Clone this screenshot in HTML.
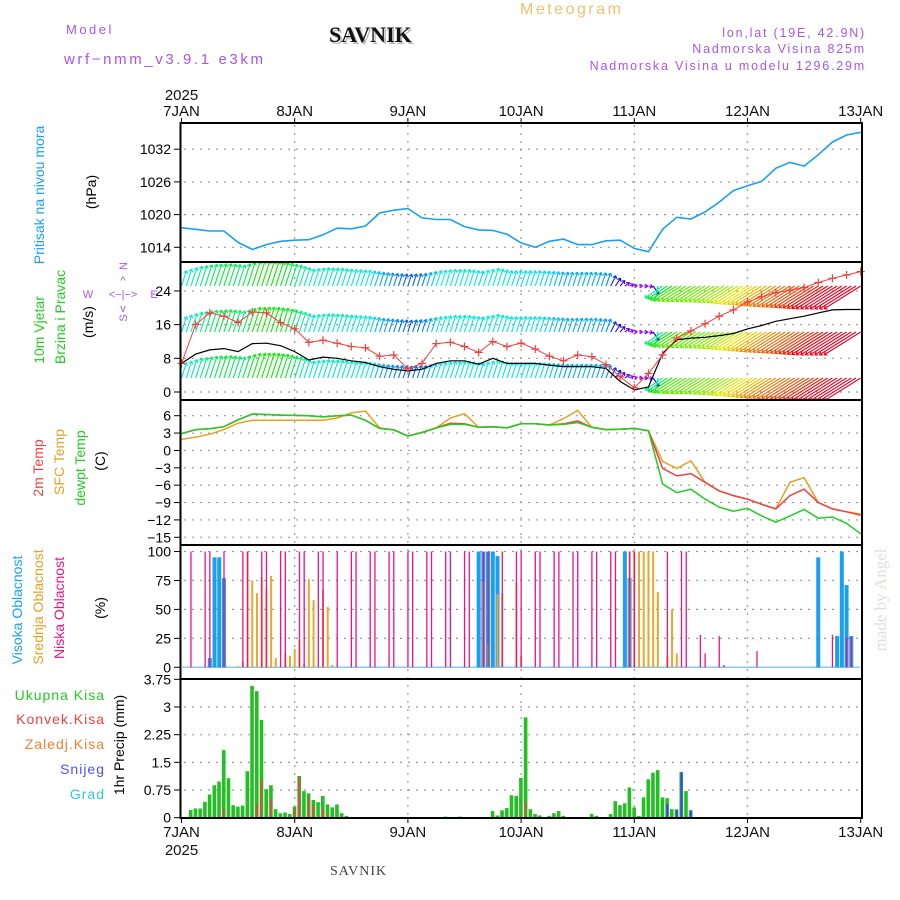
<!DOCTYPE html>
<html><head><meta charset="utf-8"><style>
html,body{margin:0;padding:0;background:#fff;}
svg{display:block;font-family:"Liberation Sans",sans-serif;}
</style></head><body>
<svg id="chart" width="900" height="900" viewBox="0 0 900 900" xmlns="http://www.w3.org/2000/svg">
<rect x="0" y="0" width="900" height="900" fill="#fff"/>
<g id="header">
<text x="66" y="34" font-size="13" fill="#a855f0" letter-spacing="2.5">Model</text>
<text x="64" y="64" font-size="15" fill="#a855f0" letter-spacing="2.6">wrf−nmm_v3.9.1 e3km</text>
<text x="331" y="44" font-size="22" font-weight="bold" font-family="'Liberation Serif',serif" fill="#bbb">SAVNIK</text>
<text x="329" y="42" font-size="22" font-weight="bold" font-family="'Liberation Serif',serif" fill="#111">SAVNIK</text>
<text x="520" y="14" font-size="16" fill="#f0c070" letter-spacing="2.5">Meteogram</text>
<text x="866" y="37" font-size="12.5" fill="#a855f0" letter-spacing="1.8" text-anchor="end">lon,lat (19E, 42.9N)</text>
<text x="866" y="53" font-size="12.5" fill="#a855f0" letter-spacing="1.8" text-anchor="end">Nadmorska Visina 825m</text>
<text x="866" y="70" font-size="12.5" fill="#a855f0" letter-spacing="1.8" text-anchor="end">Nadmorska Visina u modelu 1296.29m</text>
</g>
<g id="leftLabels" font-size="14">
<text transform="translate(44,195) rotate(-90)" text-anchor="middle" fill="#1aa0f0">Pritisak na nivou mora</text>
<text transform="translate(96,192) rotate(-90)" text-anchor="middle" fill="#000">(hPa)</text>
<text transform="translate(44,330) rotate(-90)" text-anchor="middle" fill="#22cc22">10m Vjetar</text>
<text transform="translate(65,317) rotate(-90)" text-anchor="middle" fill="#22cc22">Brzina i Pravac</text>
<text transform="translate(93,322) rotate(-90)" text-anchor="middle" fill="#000">(m/s)</text>
<g fill="#a855f0" font-size="11">
<text x="123" y="270" text-anchor="middle" transform="rotate(-90 123 266)">N</text>
<text x="88" y="298" text-anchor="middle">W</text>
<text x="123" y="298" text-anchor="middle">&lt;−|−&gt;</text>
<text x="154" y="298" text-anchor="middle">E</text>
<text x="123" y="322" text-anchor="middle" transform="rotate(-90 123 318)">S</text>
<text x="123" y="284" text-anchor="middle">^</text>
<text x="123" y="312" text-anchor="middle">v</text>
</g>
<text transform="translate(43,468) rotate(-90)" text-anchor="middle" fill="#f04040">2m Temp</text>
<text transform="translate(64,462) rotate(-90)" text-anchor="middle" fill="#e8a020">SFC Temp</text>
<text transform="translate(85,468) rotate(-90)" text-anchor="middle" fill="#22cc22">dewpt Temp</text>
<text transform="translate(105,461) rotate(-90)" text-anchor="middle" fill="#000">(C)</text>
<text transform="translate(22,610) rotate(-90)" text-anchor="middle" fill="#1aa0f0">Visoka Oblacnost</text>
<text transform="translate(43,607) rotate(-90)" text-anchor="middle" fill="#e8a020">Srednja Oblacnost</text>
<text transform="translate(64,608) rotate(-90)" text-anchor="middle" fill="#ee1188">Niska Oblacnost</text>
<text transform="translate(105,608) rotate(-90)" text-anchor="middle" fill="#000">(%)</text>
<g text-anchor="end" letter-spacing="1">
<text x="105" y="700" fill="#22cc22">Ukupna Kisa</text>
<text x="105" y="724" fill="#f04040">Konvek.Kisa</text>
<text x="105" y="749" fill="#f08030">Zaledj.Kisa</text>
<text x="105" y="774" fill="#5050f0">Snijeg</text>
<text x="105" y="799" fill="#30c8d8">Grad</text>
</g>
<text transform="translate(124,745) rotate(-90)" text-anchor="middle" fill="#000">1hr Precip (mm)</text>
<text transform="translate(886,600) rotate(-90)" text-anchor="middle" font-size="17" font-family="'Liberation Serif',serif" fill="#d8e4d8">made by Angel</text>
<text x="330" y="875" font-size="14" font-family="'Liberation Serif',serif" fill="#444" letter-spacing="1">SAVNIK</text>
</g>
<g id="plot"></g>
</svg>
<script>
// ---- data (3-hourly, hours since 7 JAN 00 UTC) ----
const hours = [0,3,6,9,12,15,18,21,24,27,30,33,36,39,42,45,48,51,54,57,60,63,66,69,72,75,78,81,84,87,90,93,96,99,102,105,108,111,114,117,120,123,126,129,132,135,138,141,144];
const dayLabels = ["7JAN","8JAN","9JAN","10JAN","11JAN","12JAN","13JAN"];
const pressure = [1017.6,1017.3,1017.0,1017.0,1014.9,1013.6,1014.5,1015.1,1015.3,1015.4,1016.3,1017.5,1017.4,1017.9,1020.3,1020.8,1021.1,1019.4,1019.1,1019.1,1017.8,1017.2,1017.1,1016.4,1014.8,1014.0,1015.1,1015.5,1014.5,1014.5,1015.2,1015.3,1013.8,1013.2,1017.3,1019.5,1019.2,1020.5,1022.3,1024.4,1025.3,1026.1,1028.5,1029.6,1028.9,1031.0,1033.3,1034.6,1035.1];
const pressureTicks = [1014,1020,1026,1032];
const windSpeed = [6.8,9.0,10.0,10.3,9.6,11.5,11.6,11.0,9.6,7.6,8.3,8.0,7.4,7.0,6.0,5.4,5.0,5.4,6.8,7.4,7.4,6.6,8.0,6.8,6.8,6.8,6.4,6.0,6.0,6.0,5.6,2.5,0.5,1.2,9.2,12.4,12.8,13.0,13.4,13.9,15.0,15.8,16.8,17.4,18.0,18.8,19.5,19.6,19.6];
const windGust = [6.8,16.0,18.8,18.0,16.5,19.0,18.8,16.5,15.0,11.8,12.3,11.6,10.8,10.5,8.5,8.8,5.5,6.8,11.5,11.8,10.8,9.4,12.0,10.8,11.6,10.2,8.5,7.4,8.8,8.4,6.5,3.6,1.0,4.4,8.8,12.8,14.5,16.2,18.0,19.5,21.4,22.6,23.6,24.2,24.8,26.0,27.0,27.8,28.6];
const windDir = [18,18,18,18,18,18,18,18,18,18,18,18,18,18,18,18,18,18,18,18,18,18,18,18,18,18,18,18,18,18,20,40,80,100,236,238,238,238,238,238,238,238,238,238,238,238,238,238,238];
const windTicks = [0,8,16,24];
const temp2m = [2.9,3.6,3.75,4.1,5.3,6.3,6.2,6.1,6.05,6.0,5.8,6.0,6.1,5.2,3.8,3.55,2.5,3.1,3.9,4.7,4.6,4.0,4.1,3.9,4.6,4.6,4.4,4.6,5.1,4.0,3.6,3.65,3.8,3.4,-3.1,-4.4,-4.0,-5.5,-7.0,-7.8,-8.4,-9.3,-10.1,-7.8,-6.7,-9.0,-10.1,-10.6,-11.2];
const tempSfc = [1.9,2.3,2.8,3.6,4.7,5.2,5.2,5.2,5.2,5.2,5.2,5.6,6.5,6.8,3.9,3.55,2.5,3.1,3.9,5.6,6.35,4.0,4.1,3.9,4.6,4.6,4.4,5.5,6.9,4.0,3.6,3.65,3.8,3.4,-1.9,-3.1,-1.8,-5.5,-7.0,-7.8,-8.4,-9.3,-10.1,-5.5,-4.7,-9.0,-10.1,-10.6,-11.0];
const tempDew = [2.9,3.6,3.75,4.1,5.3,6.3,6.2,6.1,6.05,6.0,5.8,6.0,6.1,5.2,3.8,3.55,2.5,3.1,3.9,4.5,4.5,4.0,4.1,3.9,4.6,4.6,4.4,4.5,4.8,4.0,3.6,3.65,3.8,3.4,-5.8,-7.3,-6.7,-8.4,-9.8,-10.5,-10.0,-11.3,-12.4,-11.3,-10.2,-11.7,-11.5,-12.6,-14.4];
const tempTicks = [6,3,0,-3,-6,-9,-12,-15];
const lowCloudHours = [2,5,6,9,13,14,17,18,21,22,25,26,29,30,33,36,37,40,41,44,45,48,49,52,53,56,57,60,61,64,65,68,71,72,75,76,79,80,83,84,87,88,91,92,95,96,103,106,107,110,111,114,115,122,138,141,142];
const lowCloudVals = [100,100,100,100,100,100,100,100,100,100,100,100,100,100,100,100,100,100,100,100,100,100,100,100,100,100,100,100,100,100,100,100,100,100,100,100,100,100,100,100,100,100,100,100,100,100,100,100,100,28,12,27,2,14,28,26,26];
const midCloudHours = [12,13,14,15,16,17,18,19,20,22,23,24,25,26,27,28,30,31,32,64,65,67,68,71,72,95,96,97,98,99,100,101,103,104,105,107];
const midCloudVals = [1,5,100,75,64,78,68,79,8,12,10,16,24,3,76,58,67,52,2,74,20,63,64,74,10,100,100,100,100,100,100,65,10,50,12,1];
const highCloudHours = [6,7,8,9,63,64,65,66,67,94,95,135,139,140,141,142];
const highCloudVals = [8,95,95,77,100,100,100,100,96,100,77,95,27,100,71,27];
const cloudTicks = [0,25,50,75,100];
const precipHours = [2,3,4,5,6,7,8,9,10,11,12,13,14,15,16,17,18,19,20,21,22,23,24,25,26,27,28,29,30,31,32,33,34,35,56,59,66,67,68,69,70,71,72,73,74,75,76,78,79,80,81,87,88,91,92,93,94,95,96,97,98,99,100,101,102,103,104,105,106,107,108];
const precipTotal = [0.21,0.25,0.25,0.43,0.63,0.88,0.98,1.83,1.07,0.34,0.30,0.33,1.26,3.57,3.43,2.65,0.77,0.88,0.23,0.12,0.14,0.10,0.30,1.13,0.72,0.66,0.48,0.42,0.59,0.36,0.28,0.36,0.12,0.05,0.03,0.03,0.18,0.06,0.20,0.26,0.61,0.59,1.08,2.72,0.23,0.10,0.06,0.05,0.12,0.18,0.05,0.10,0.05,0.10,0.45,0.34,0.39,0.82,0.28,0.05,0.55,1.04,1.22,1.29,0.55,0.53,0.23,0.23,1.24,0.72,0.20];
const convHours = [9,15,16,17,19,24,25,27,28,30,31,73,105,106];
const convVals = [0.27,0.04,0.38,1.04,0.5,0.25,1.1,0.55,0.35,0.25,0.1,0.42,0.05,0.1];
const snowHours = [103,105,106,108];
const snowVals = [0.37,0.2,1.22,0.2];
const precipTicks = [0,0.75,1.5,2.25,3,3.75];

// ---- axes ----
const X0 = 181.5, DAY = 113.2;
const xOf = h => X0 + h * DAY / 24;
const yP = v => 247.3 - (v - 1014) * 5.45;
const yW = v => 392 - v * 4.21;
const yT = v => 415.7 + (6 - v) * 5.79;
const yC = v => 667.3 - v * 1.158;
const yR = v => 817.7 - v * 36.9;
const panels = [[123,262],[262,400],[400,545],[545,679],[679,818]];

const NS = "http://www.w3.org/2000/svg";
const plot = document.getElementById('plot');
function mk(tag, attrs, parent) {
  const e = document.createElementNS(NS, tag);
  for (const k in attrs) e.setAttribute(k, attrs[k]);
  (parent || plot).appendChild(e);
  return e;
}
function interp(arr, h) {
  for (let i = 0; i < hours.length - 1; i++) {
    if (h >= hours[i] && h <= hours[i+1]) {
      const f = (h - hours[i]) / (hours[i+1] - hours[i]);
      return arr[i] + (arr[i+1] - arr[i]) * f;
    }
  }
  return arr[arr.length - 1];
}
function pathOf(arr, yf) {
  return arr.map((v, i) => (i ? 'L' : 'M') + xOf(hours[i]).toFixed(1) + ' ' + yf(v).toFixed(1)).join(' ');
}

// grid
const grid = mk('g', {stroke:'#999', 'stroke-width':1.2, 'stroke-dasharray':'2 6'});


for (let d = 1; d < 6; d++) {
  const x = xOf(d*24);
  mk('line', {x1:x, y1:125, x2:x, y2:816}, grid);
}
function hgrid(ticks, yf) { ticks.forEach(t => mk('line', {x1:184, x2:860, y1:yf(t), y2:yf(t)}, grid)); }
hgrid(pressureTicks, yP); hgrid(windTicks, yW); hgrid(tempTicks, yT); hgrid(cloudTicks, yC); hgrid(precipTicks.slice(0,5), yR);

// tick labels
const tl = mk('g', {'font-size':14, 'text-anchor':'end', fill:'#000'});


function ticks(arr, yf) {
  arr.forEach(t => {
    const y = yf(t);
    const txt = mk('text', {x:171, y:y+5}, tl);
    txt.textContent = String(t).replace('-', '−');
    mk('line', {x1:174, x2:180, y1:y, y2:y, stroke:'#000', 'stroke-width':1}, tl);
  });
}
ticks(pressureTicks, yP); ticks(windTicks, yW); ticks(tempTicks, yT); ticks(cloudTicks, yC); ticks(precipTicks, yR);

// day labels
const dl = mk('g', {'font-size':15, 'text-anchor':'middle', fill:'#111'});


dayLabels.forEach((lab, i) => {
  const x = xOf(i*24);
  const t1 = mk('text', {x:x, y:116}, dl); t1.textContent = lab;
  const t2 = mk('text', {x:x, y:837}, dl); t2.textContent = lab;
  mk('line', {x1:x, x2:x, y1:118, y2:123, stroke:'#000'}, dl);
  mk('line', {x1:x, x2:x, y1:818, y2:823, stroke:'#000'}, dl);
});
const y1 = mk('text', {x:X0, y:100}, dl); y1.textContent = '2025';
const y2 = mk('text', {x:X0, y:855}, dl); y2.textContent = '2025';

// pressure
const pl = mk('path', {d:pathOf(pressure, yP), fill:'none', stroke:'#1aa0f0', 'stroke-width':1.6});



// wind arrows
function speedColor(s) {
  const st = [[0,280],[1,275],[4,240],[5.5,205],[7,178],[9,160],[11,125],[15,60],[17,32],[19,5],[21,-40]];
  let hue = -40;
  for (let i = 0; i < st.length - 1; i++) {
    if (s >= st[i][0] && s <= st[i+1][0]) { hue = st[i][1] + (st[i+1][1]-st[i][1])*(s-st[i][0])/(st[i+1][0]-st[i][0]); break; }
  }
  return 'hsl(' + ((hue + 360) % 360).toFixed(0) + ',100%,46%)';
}
const wg = mk('g', {'stroke-width':1.1, 'clip-path':'url(#windclip)'});


const defs = mk('defs', {});
const cp = mk('clipPath', {id:'windclip'}, defs);
mk('rect', {x:181, y:263, width:680, height:136}, cp);
const anchors = [286, 332, 378];
for (let h = 0; h <= 144; h++) {
  const s = interp(windSpeed, h), d = interp(windDir, h) * Math.PI / 180;
  const L = 2.1 * s + 2, x = xOf(h), c = speedColor(s);
  anchors.forEach(a => {
    const hx = x + L * Math.sin(d), hy = a - L * Math.cos(d);
    mk('line', {x1:x, y1:a, x2:hx, y2:hy, stroke:c}, wg);
    const ang = Math.atan2(hy - a, hx - x);
    [1, -1].forEach(o => {
      mk('line', {x1:hx, y1:hy, x2:hx - 3.5*Math.cos(ang+o*0.6), y2:hy - 3.5*Math.sin(ang+o*0.6), stroke:c}, wg);
    });
  });
}
const wl = mk('path', {d:pathOf(windSpeed, yW), fill:'none', stroke:'#000', 'stroke-width':1.2});


const gl = mk('path', {d:pathOf(windGust, yW), fill:'none', stroke:'#f04040', 'stroke-width':1});


const gm = mk('g', {stroke:'#f04040', 'stroke-width':1.2});


windGust.forEach((v, i) => {
  const x = xOf(hours[i]), y = yW(v);
  mk('line', {x1:x-4, x2:x+4, y1:y, y2:y}, gm);
  mk('line', {x1:x, x2:x, y1:y-4, y2:y+4}, gm);
});

// temperatures
[[tempSfc,'#e8a020','sfc-temp-line'],[temp2m,'#f04040','t2m-line'],[tempDew,'#22cc22','dewpt-line']].forEach(s => {
  const p = mk('path', {d:pathOf(s[0], yT), fill:'none', stroke:s[1], 'stroke-width':1.5});
  
  
});

// clouds
mk('line', {x1:182, x2:860, y1:yC(0), y2:yC(0), stroke:'#8cc8e8', 'stroke-width':1.5});
const cg = mk('g', {});


highCloudHours.forEach((h, i) => {
  const r = mk('rect', {x:xOf(h)-2, y:yC(highCloudVals[i]), width:4, height:yC(0)-yC(highCloudVals[i]), fill:'#1aa0f0'}, cg);
  
  
});
midCloudHours.forEach((h, i) => {
  const r = mk('rect', {x:xOf(h)-1, y:yC(midCloudVals[i]), width:2, height:yC(0)-yC(midCloudVals[i]), fill:'#e8a830'}, cg);
  
  
});
lowCloudHours.forEach((h, i) => {
  const r = mk('rect', {x:xOf(h)-0.6, y:yC(lowCloudVals[i]), width:1.3, height:yC(0)-yC(lowCloudVals[i]), fill:'#ee1188'}, cg);
  
  
});

// precipitation
const pg = mk('g', {});


precipHours.forEach((h, i) => {
  const r = mk('rect', {x:xOf(h)-2, y:yR(precipTotal[i]), width:3.6, height:yR(0)-yR(precipTotal[i]), fill:'#22c022'}, pg);
  
  
});
convHours.forEach((h, i) => {
  const r = mk('rect', {x:xOf(h)-1, y:yR(convVals[i]), width:1.6, height:yR(0)-yR(convVals[i]), fill:'#f04040'}, pg);
  
  
});
snowHours.forEach((h, i) => {
  const r = mk('rect', {x:xOf(h)-1, y:yR(snowVals[i]), width:2, height:yR(0)-yR(snowVals[i]), fill:'#4040f0'}, pg);
  
  
});

// panel frames
const fr = mk('g', {fill:'none', stroke:'#000', 'stroke-width':2});


mk('rect', {x:180.5, y:123, width:681.5, height:695}, fr);
panels.slice(1).forEach(p => mk('line', {x1:180, x2:862, y1:p[0], y2:p[0]}, fr));
</script>
</body></html>
